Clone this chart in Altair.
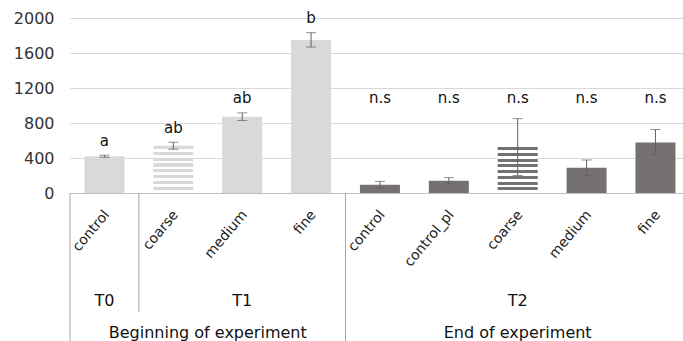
import json
import altair as alt
import pandas as pd

# ---- data ----
categories = ["control", "coarse", "medium", "fine", "control", "control_pl", "coarse", "medium", "fine"]
times = ["T0", "T1", "T1", "T1", "T2", "T2", "T2", "T2", "T2"]
phases = ["Beginning of experiment"] * 4 + ["End of experiment"] * 5
means = [420, 540, 872, 1750, 95, 140, 525, 288, 578]
errors = [12, 40, 44, 82, 38, 36, 325, 90, 148]
letters = ["a", "ab", "ab", "b", "n.s", "n.s", "n.s", "n.s", "n.s"]
hatched = [False, True, False, False, False, False, True, False, False]
y_ticks = [0, 400, 800, 1200, 1600, 2000]

FONT = "DejaVu Sans"
LIGHT = "#d9d9d9"
DARK = "#767171"
ERR = "#606060"
SEP = "#a6a6a6"

idx = list(range(len(categories)))
df = pd.DataFrame({
    "idx": idx, "category": categories, "time": times, "phase": phases,
    "mean": means, "err": errors, "letter": letters, "hatched": hatched,
})
df["lo"] = df["mean"] - df["err"]
df["hi"] = df["mean"] + df["err"]
df["label_y"] = [h + 165 if p == phases[0] else 1085 for h, p in zip(df["hi"], df["phase"])]

time_df = df.groupby("time", as_index=False)["idx"].mean().rename(columns={"idx": "pos"})
phase_df = df.groupby("phase", as_index=False)["idx"].mean().rename(columns={"idx": "pos"})

short_seps, long_seps = [], [-0.5]
for i in range(1, len(categories)):
    if phases[i] != phases[i - 1]:
        long_seps.append(i - 0.5)
    elif times[i] != times[i - 1]:
        short_seps.append(i - 0.5)
short_df = pd.DataFrame({"pos": short_seps})
long_df = pd.DataFrame({"pos": long_seps})

H = 175
xscale = alt.Scale(domain=[-0.5, 8.4], nice=False, zero=False, padding=0)
yscale = alt.Scale(domain=[0, 2000], nice=False, padding=0)

label_expr = json.dumps(categories) + "[datum.value]"
xaxis = alt.Axis(values=idx, labelExpr=label_expr, title=None, grid=False, ticks=False,
                 domain=True, domainColor="#bfbfbf", labelAngle=-50, labelAlign="right",
                 labelBaseline="middle", labelPadding=19, labelOffset=2, labelFontSize=14,
                 labelFont=FONT, labelColor="#222222", labelOverlap=False, labelFlush=False)
yaxis = alt.Axis(values=y_ticks, format="d", title=None, grid=True, gridColor=LIGHT, ticks=False,
                 domain=False, labelFontSize=16, labelFont=FONT, labelColor="#333333",
                 labelPadding=16)


def X(field):
    return alt.X(field, scale=xscale, axis=xaxis, title=None)


def Y(field):
    return alt.Y(field, scale=yscale, axis=yaxis, title=None)


base = alt.Chart(df)

solid = base.transform_filter("!datum.hatched").mark_bar(width=40).encode(
    x=X("idx:Q"),
    y=Y("mean:Q"),
    color=alt.Color("phase:N", scale=alt.Scale(domain=phases[:1] + phases[-1:], range=[LIGHT, DARK]), legend=None),
)


def stripes(color, n=8, frac=0.52):
    stops = []
    for k in range(n):
        a, b, c = k / n, (k + frac) / n, (k + 1) / n
        stops += [alt.GradientStop(offset=a, color=color), alt.GradientStop(offset=b, color=color),
                  alt.GradientStop(offset=b, color="white"), alt.GradientStop(offset=c, color="white")]
    return alt.Gradient(gradient="linear", stops=stops, x1=0, x2=0, y1=0, y2=1)


def hatched_layer(phase, color):
    return base.transform_filter(
        alt.datum.hatched & (alt.datum.phase == phase)
    ).mark_bar(width=40, color=stripes(color)).encode(
        x=X("idx:Q"),
        y=Y("mean:Q"),
    )


hatch_light = hatched_layer(phases[0], LIGHT)
hatch_dark = hatched_layer(phases[-1], DARK)

err_rule = base.mark_rule(color=ERR, strokeWidth=1).encode(
    x=X("idx:Q"),
    y=Y("lo:Q"),
    y2="hi:Q",
)
err_caps = base.transform_fold(["lo", "hi"], as_=["k", "v"]).mark_tick(
    orient="horizontal", size=10, thickness=1, color=ERR
).encode(
    x=X("idx:Q"),
    y=Y("v:Q"),
)

letter_text = base.mark_text(fontSize=15, font=FONT, baseline="middle", color="#111111").encode(
    x=X("idx:Q"),
    y=Y("label_y:Q"),
    text="letter:N",
)

time_text = alt.Chart(time_df).mark_text(fontSize=16, font=FONT, baseline="alphabetic", color="#111111").encode(
    x=X("pos:Q"),
    y=alt.value(288),
    text="time:N",
)
phase_text = alt.Chart(phase_df).mark_text(fontSize=16, font=FONT, baseline="alphabetic", color="#111111").encode(
    x=X("pos:Q"),
    y=alt.value(320),
    text="phase:N",
)

short_rules = alt.Chart(short_df).mark_rule(color=SEP, strokeWidth=1).encode(
    x=X("pos:Q"),
    y=alt.value(H),
    y2=alt.value(294),
)
long_rules = alt.Chart(long_df).mark_rule(color=SEP, strokeWidth=1).encode(
    x=X("pos:Q"),
    y=alt.value(H),
    y2=alt.value(323),
)

chart = alt.layer(
    solid, hatch_light, hatch_dark, err_rule, err_caps, letter_text,
    time_text, phase_text, short_rules, long_rules,
).properties(
    width=613, height=H,
    autosize=alt.AutoSizeParams(type="none"),
    padding={"left": 70, "top": 18, "right": 0, "bottom": 148},
).configure(font=FONT, view=alt.ViewConfig(stroke=None))

chart.save("out.html", embed_options={"renderer": "svg", "actions": False})
